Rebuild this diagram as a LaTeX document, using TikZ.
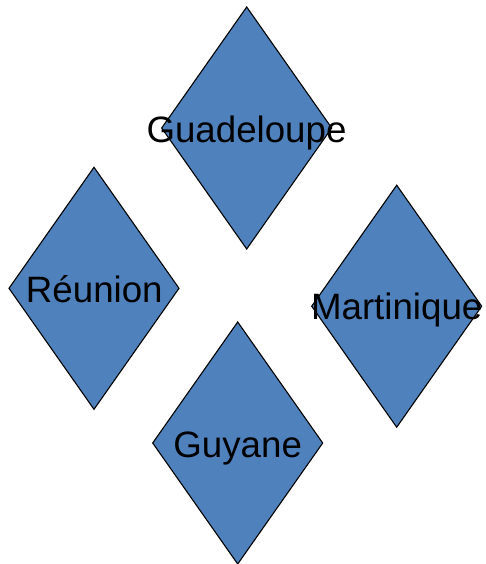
\documentclass[tikz,border=0pt]{standalone}
\usepackage{fontspec}
\setmainfont{Liberation Sans}
\usetikzlibrary{shapes.geometric}
\definecolor{diafill}{HTML}{4F81BD}
\tikzset{
  dia/.style={diamond, draw=black, line width=1.1pt, fill=diafill, minimum width=170pt, minimum height=242pt, inner sep=0pt, outer sep=0pt},
  lbl/.style={anchor=base, inner sep=0pt, font=\fontsize{36.7}{40}\selectfont, text=black}
}
\begin{document}
\begin{tikzpicture}[x=1pt,y=-1pt]
\useasboundingbox (0,0) rectangle (485,564);
\node[dia] (gua) at (246.7,128) {};
\node[dia] (reu) at (94,288.3) {};
\node[dia] (mar) at (396.7,306.2) {};
\node[dia] (guy) at (237.7,443) {};
\node[lbl] (guat) at (246.5,142.7) {Guadeloupe};
\node[lbl] (reut) at (94.3,302.7) {Réunion};
\node[lbl] (mart) at (396.7,319.3) {Martinique};
\node[lbl] (guyt) at (237.7,457.7) {Guyane};
\end{tikzpicture}
\end{document}
